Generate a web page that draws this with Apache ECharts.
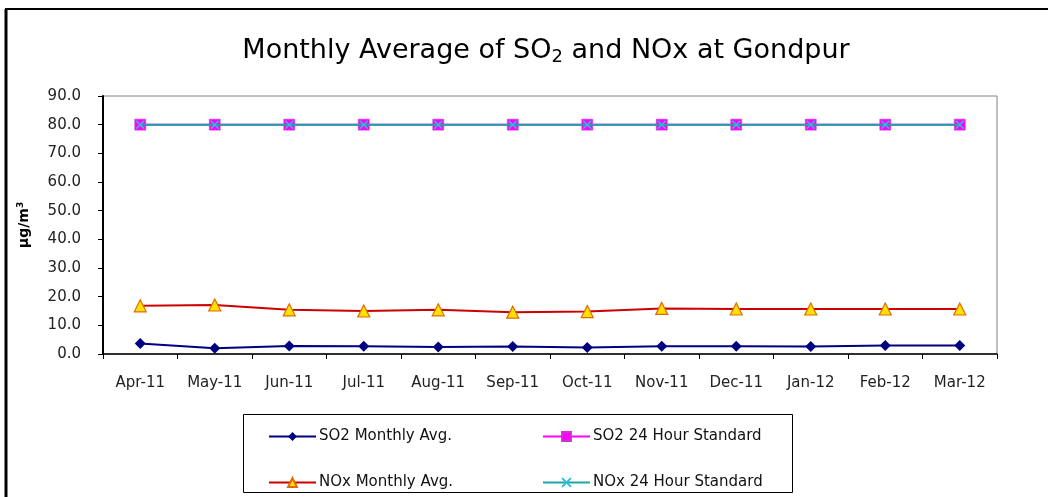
<!DOCTYPE html>
<html>
<head>
<meta charset="utf-8">
<script src="https://cdn.jsdelivr.net/npm/echarts@6/dist/echarts.min.js"></script>
<style>
html,body{margin:0;padding:0;background:#fff;}
#c{width:1048px;height:497px;}
</style>
</head>
<body>
<div id="c"></div>
<script>
const categories = ['Apr-11','May-11','Jun-11','Jul-11','Aug-11','Sep-11','Oct-11','Nov-11','Dec-11','Jan-12','Feb-12','Mar-12'];
const so2Monthly = [3.7, 2.0, 2.8, 2.7, 2.4, 2.6, 2.3, 2.7, 2.7, 2.6, 3.0, 3.0];
const noxMonthly = [16.8, 17.1, 15.4, 15.0, 15.4, 14.6, 14.8, 15.9, 15.7, 15.7, 15.7, 15.7];
const so2Standard = [80, 80, 80, 80, 80, 80, 80, 80, 80, 80, 80, 80];
const noxStandard = [80, 80, 80, 80, 80, 80, 80, 80, 80, 80, 80, 80];
const seriesNames = ['SO2 Monthly Avg.', 'SO2 24 Hour Standard', 'NOx Monthly Avg.', 'NOx 24 Hour Standard'];

const FONT = '"DejaVu Sans", "Liberation Sans", Arial, sans-serif';
const xPath = 'path://M0,0L10,10M10,0L0,10';

const chart = echarts.init(document.getElementById('c'), null, {renderer: 'canvas'});

function legendAt(name, left, top) {
  return {
    data: [name], left: left, top: top, orient: 'horizontal',
    itemWidth: 47, itemHeight: 11, itemGap: 6,
    textStyle: {fontFamily: FONT, fontSize: 15, color: '#111', padding: [0, 0, 0, -2]},
    selectedMode: false
  };
}

chart.setOption({
  animation: false,
  backgroundColor: '#fff',
  title: {
    text: 'Monthly Average of SO{sub|2} and NOx at Gondpur',
    left: 541, top: 30, textAlign: 'center',
    textStyle: {
      fontFamily: FONT, fontSize: 27, fontWeight: 'normal', color: '#000',
      rich: {sub: {fontFamily: FONT, fontSize: 18, color: '#000', verticalAlign: 'bottom', padding: [13, 0, 0, 0]}}
    }
  },
  legend: [
    legendAt(seriesNames[0], 263, 424),
    legendAt(seriesNames[1], 537, 424),
    legendAt(seriesNames[2], 263, 470),
    legendAt(seriesNames[3], 537, 470)
  ],
  grid: {left: 103, right: 51, top: 96, bottom: 143, show: true, borderColor: '#808080', borderWidth: 1, backgroundColor: '#fff'},
  xAxis: {
    type: 'category', data: categories, boundaryGap: true,
    axisLine: {lineStyle: {color: '#000', width: 1.5}},
    axisTick: {show: true, inside: false, length: 5, lineStyle: {color: '#000', width: 1}},
    axisLabel: {fontFamily: FONT, fontSize: 15, color: '#222', margin: 22},
    splitLine: {show: false}
  },
  yAxis: {
    type: 'value', min: 0, max: 90, interval: 10,
    name: 'µg/m{sup|3}', nameLocation: 'middle', nameRotate: 90, nameGap: 71,
    nameTextStyle: {fontFamily: FONT, fontSize: 14, fontWeight: 'bold', color: '#000',
      rich: {sup: {fontFamily: FONT, fontSize: 9, fontWeight: 'bold', color: '#000', verticalAlign: 'top', padding: [0, 0, 7, 0]}}},
    axisLine: {show: true, lineStyle: {color: '#000', width: 2}},
    axisTick: {show: true, inside: false, length: 5, lineStyle: {color: '#000', width: 1}},
    axisLabel: {fontFamily: FONT, fontSize: 15, color: '#222', margin: 22, formatter: v => v.toFixed(1)},
    splitLine: {show: false}
  },
  graphic: [
    {type: 'line', shape: {x1: 5, y1: 9, x2: 1048, y2: 9}, style: {stroke: '#000', lineWidth: 2}, silent: true},
    {type: 'line', shape: {x1: 6, y1: 9, x2: 6, y2: 497}, style: {stroke: '#000', lineWidth: 3}, silent: true},
    {type: 'rect', shape: {x: 243.5, y: 414.5, width: 549, height: 78}, style: {fill: null, stroke: '#000', lineWidth: 1}, silent: true, z: -1}
  ],
  series: [
    {
      name: seriesNames[0], type: 'line', data: so2Monthly,
      symbol: 'diamond', symbolSize: 11,
      lineStyle: {color: '#000080', width: 2},
      itemStyle: {color: '#000080'}, z: 4
    },
    {
      name: seriesNames[1], type: 'line', data: so2Standard,
      symbol: 'rect', symbolSize: 11,
      lineStyle: {color: '#ff00ff', width: 2},
      itemStyle: {color: '#ff00ff', borderColor: '#cc33cc', borderWidth: 0.5}, z: 2
    },
    {
      name: seriesNames[2], type: 'line', data: noxMonthly,
      symbol: 'triangle', symbolSize: 12,
      lineStyle: {color: '#cc0000', width: 2},
      itemStyle: {color: '#ffe000', borderColor: '#e06a00', borderWidth: 1.2}, z: 3
    },
    {
      name: seriesNames[3], type: 'line', data: noxStandard,
      symbol: xPath, symbolSize: 8,
      lineStyle: {color: '#1fa5a5', width: 2},
      itemStyle: {color: 'rgba(0,0,0,0)', borderColor: '#33bbdd', borderWidth: 1.5}, z: 5
    }
  ]
});
</script>
</body>
</html>
